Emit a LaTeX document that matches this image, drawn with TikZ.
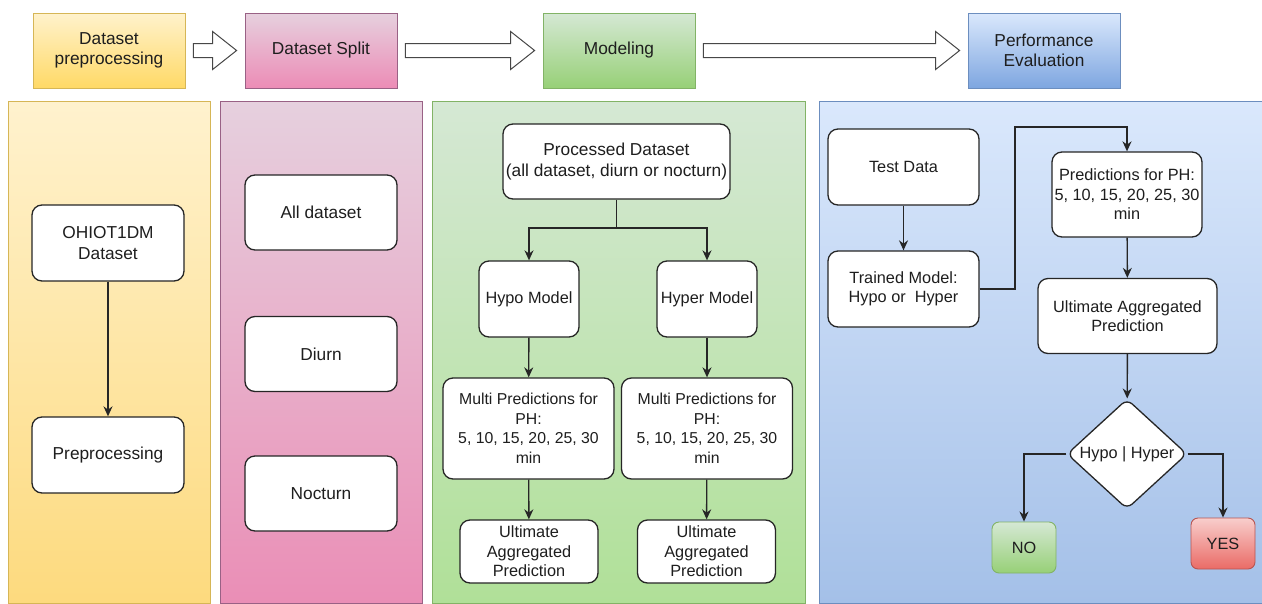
\documentclass[tikz,border=0pt]{standalone}
\usepackage{fontspec}
\setmainfont{Liberation Sans}
\usetikzlibrary{shapes.geometric, arrows.meta, calc}

\definecolor{yelbord}{HTML}{D6B656}
\definecolor{pinkbord}{HTML}{996185}
\definecolor{greenbord}{HTML}{82B366}
\definecolor{bluebord}{HTML}{6C8EBF}
\definecolor{redbord}{HTML}{B85450}
\definecolor{inktext}{HTML}{1E1E1E}
\definecolor{inkline}{HTML}{262626}

\tikzstyle{header} = [rectangle, minimum width=152pt, minimum height=75pt, align=center, line width=0.8pt, text=inktext, font=\fontsize{17.3}{20.5}\selectfont]
\tikzstyle{panel} = [line width=0.8pt]
\tikzstyle{process} = [rectangle, rounded corners=10pt, draw=inkline, line width=1.3pt, fill=white, align=center, inner sep=1pt, text=inktext, font=\fontsize{16.3}{19.5}\selectfont]
\tikzstyle{bigfont} = [font=\fontsize{17.3}{20.5}\selectfont]
\tikzstyle{smallfont} = [font=\fontsize{15.8}{19.5}\selectfont]
\tikzstyle{decision} = [diamond, rounded corners=7pt, draw=inkline, line width=1.3pt, fill=white, inner sep=0pt, minimum width=120pt, minimum height=95pt, text=inktext, font=\fontsize{16.3}{19.5}\selectfont]
\tikzstyle{verdict} = [rectangle, rounded corners=7pt, line width=0.9pt, minimum width=64pt, minimum height=51pt, text=inktext, font=\fontsize{16.3}{19.5}\selectfont]
\tikzstyle{arrow} = [line width=1.4pt, draw=inkline, -{Stealth[length=10pt,width=9pt]}]
\tikzstyle{link} = [line width=1.4pt, draw=inkline]
\tikzstyle{bigarrow} = [draw=inkline!85, line width=1pt, fill=white]

\begin{document}
\begin{tikzpicture}[x=1pt, y=-1pt]
    \useasboundingbox (0,0) rectangle (1262,603);

    % stage headers
    \node (prep) [header, draw=yelbord, top color={rgb,255:red,255;green,242;blue,204}, bottom color={rgb,255:red,255;green,217;blue,102}] at (109,50.5) {Dataset\\preprocessing};
    \node (split) [header, draw=pinkbord, top color={rgb,255:red,230;green,208;blue,222}, bottom color={rgb,255:red,236;green,140;blue,182}] at (321,50.5) {Dataset Split};
    \node (modeling) [header, draw=greenbord, top color={rgb,255:red,213;green,232;blue,212}, bottom color={rgb,255:red,151;green,208;blue,119}] at (619,50.5) {Modeling};
    \node (perf) [header, draw=bluebord, top color={rgb,255:red,218;green,232;blue,252}, bottom color={rgb,255:red,126;green,166;blue,224}] at (1044,50.5) {Performance\\Evaluation};

    \foreach \from/\to in {prep/split, split/modeling, modeling/perf}
        \draw[bigarrow] let \p1 = (\from.east), \p2 = (\to.west) in
            (\x1+8pt,\y1-7pt) -- (\x2-32pt,\y1-7pt) -- (\x2-32pt,\y1-19pt) -- (\x2-8pt,\y1)
            -- (\x2-32pt,\y1+19pt) -- (\x2-32pt,\y1+7pt) -- (\x1+8pt,\y1+7pt) -- cycle;

    % background panels
    \draw[panel, draw=yelbord, top color={rgb,255:red,255;green,242;blue,206}, bottom color={rgb,255:red,253;green,218;blue,126}] (8,101) rectangle (210,603);
    \draw[panel, draw=pinkbord, top color={rgb,255:red,230;green,208;blue,222}, bottom color={rgb,255:red,234;green,142;blue,182}] (220,101) rectangle (422,603);
    \draw[panel, draw=greenbord, top color={rgb,255:red,213;green,232;blue,212}, bottom color={rgb,255:red,176;green,224;blue,152}] (432,101) rectangle (805,603);
    \draw[panel, draw=bluebord, top color={rgb,255:red,218;green,232;blue,252}, bottom color={rgb,255:red,164;green,192;blue,232}] (819,101) rectangle (1262,603);

    % preprocessing
    \node (ohio) [process, bigfont, minimum width=152pt, minimum height=76pt] at (108,243) {OHIOT1DM\\Dataset};
    \node (prepro) [process, bigfont, minimum width=152pt, minimum height=76pt] at (108,455) {Preprocessing};

    % split
    \node (alldata) [process, bigfont, minimum width=152pt, minimum height=75pt] at (321,212.5) {All dataset};
    \node (diurn) [process, bigfont, minimum width=152pt, minimum height=75pt] at (321,354) {Diurn};
    \node (nocturn) [process, bigfont, minimum width=152pt, minimum height=75pt] at (321,493.5) {Nocturn};

    % modeling
    \node (processed) [process, bigfont, minimum width=227pt, minimum height=75pt] at (616.5,161.5) {Processed Dataset\\(all dataset, diurn or nocturn)};
    \coordinate (fork) at (616.5,228);
    \node (hypo) [process, minimum width=100pt, minimum height=76pt] at (529,299) {Hypo Model};
    \node (hyper) [process, minimum width=100pt, minimum height=76pt] at (707,299) {Hyper Model};
    \node (multihypo) [process, smallfont, minimum width=171pt, minimum height=101pt] at (528.5,428.5) {Multi Predictions for\\PH:\\5, 10, 15, 20, 25, 30\\min};
    \node (multihyper) [process, smallfont, minimum width=171pt, minimum height=101pt] at (707,428.5) {Multi Predictions for\\PH:\\5, 10, 15, 20, 25, 30\\min};
    \node (ulthypo) [process, minimum width=138pt, minimum height=63pt] at (529,551.5) {Ultimate\\Aggregated\\Prediction};
    \node (ulthyper) [process, minimum width=138pt, minimum height=63pt] at (706.5,551.5) {Ultimate\\Aggregated\\Prediction};

    % evaluation
    \node (test) [process, minimum width=151pt, minimum height=76pt] at (903.5,167) {Test Data};
    \node (trained) [process, minimum width=151pt, minimum height=76pt] at (903.5,289) {Trained Model:\\Hypo or\ \ Hyper};
    \coordinate (bend) at (1015,127);
    \node (predph) [process, minimum width=150pt, minimum height=85pt] at (1127,194.5) {Predictions for PH:\\5, 10, 15, 20, 25, 30\\min};
    \node (ultimate) [process, minimum width=179pt, minimum height=75pt] at (1127.5,316) {Ultimate Aggregated\\Prediction};
    \node (check) [decision] at (1127,454) {Hypo | Hyper};
    \node (no) [verdict, draw=greenbord, top color={rgb,255:red,213;green,232;blue,212}, bottom color={rgb,255:red,151;green,208;blue,119}] at (1024,547.5) {NO};
    \node (yes) [verdict, draw=redbord, top color={rgb,255:red,248;green,206;blue,204}, bottom color={rgb,255:red,234;green,107;blue,102}] at (1223,543.5) {YES};

    % connectors
    \draw[arrow] (ohio) -- (prepro);
    \draw[link] (processed) -- (fork);
    \draw[arrow] (fork) -| (hypo);
    \draw[arrow] (fork) -| (hyper);
    \draw[arrow] (hypo) -- (multihypo);
    \draw[arrow] (hyper) -- (multihyper);
    \draw[arrow] (multihypo) -- (ulthypo);
    \draw[arrow] (multihyper) -- (ulthyper);
    \draw[arrow] (test) -- (trained);
    \draw[arrow] (trained.east) -| (bend) -| (predph.north);
    \draw[arrow] (predph) -- (ultimate);
    \draw[arrow] (ultimate) -- (check);
    \draw[arrow] (check.west) -| (no.north);
    \draw[arrow] (check.east) -| (yes.north);

\end{tikzpicture}
\end{document}
